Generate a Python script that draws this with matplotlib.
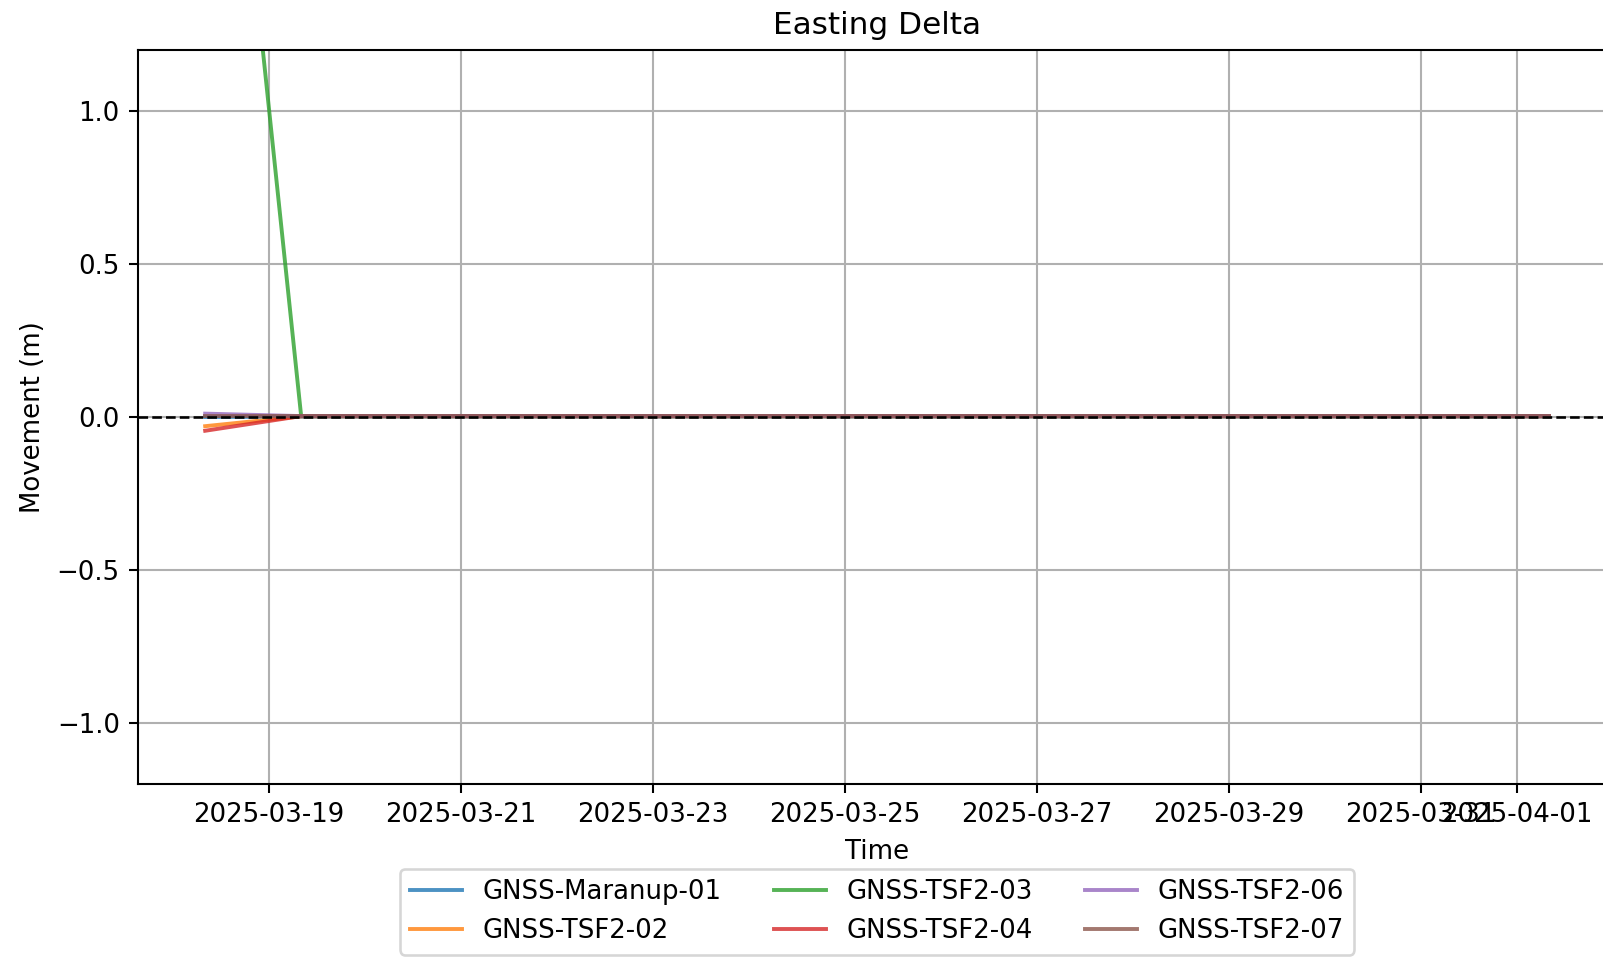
import numpy as np
import pandas as pd
import matplotlib
matplotlib.use('Agg')
import matplotlib.pyplot as plt

DPI = 187

# daily readings, 08:00 each day
dates = pd.date_range("2025-03-18 08:00", "2025-04-01 08:00", freq="D")

stations = ["GNSS-Maranup-01", "GNSS-TSF2-02", "GNSS-TSF2-03",
            "GNSS-TSF2-04", "GNSS-TSF2-06", "GNSS-TSF2-07"]

maranup_01 = [0.000, 0.001, 0.001, 0.001, 0.001, 0.001, 0.001, 0.001,
              0.001, 0.001, 0.001, 0.001, 0.001, 0.001, 0.001]
tsf2_02 = [-0.030, 0.002, 0.002, 0.002, 0.002, 0.002, 0.002, 0.002,
           0.002, 0.002, 0.002, 0.002, 0.002, 0.002, 0.002]
tsf2_03 = [3.00, 0.003, 0.003, 0.003, 0.003, 0.003, 0.003, 0.003,
           0.003, 0.003, 0.003, 0.003, 0.003, 0.003, 0.003]
tsf2_04 = [-0.045, 0.003, 0.003, 0.003, 0.003, 0.003, 0.003, 0.003,
           0.003, 0.003, 0.003, 0.003, 0.003, 0.003, 0.003]
tsf2_06 = [0.011, 0.003, 0.003, 0.003, 0.003, 0.003, 0.003, 0.003,
           0.003, 0.003, 0.003, 0.003, 0.003, 0.003, 0.003]
tsf2_07 = [0.004, 0.004, 0.004, 0.004, 0.004, 0.004, 0.004, 0.004,
           0.004, 0.004, 0.004, 0.004, 0.004, 0.004, 0.004]

series = [maranup_01, tsf2_02, tsf2_03, tsf2_04, tsf2_06, tsf2_07]

fig = plt.figure(figsize=(1603 / DPI, 958 / DPI), dpi=DPI)
# axes runs past the right edge, like the cropped original
ax = fig.add_axes([138 / 1603, 1 - 784 / 958, (1616 - 138) / 1603, (784 - 50) / 958])

for name, vals in zip(stations, series):
    ax.plot(dates, vals, label=name, alpha=0.8)

ax.axhline(0, color='black', linestyle='--', linewidth=1)
ax.set_ylim(-1.2, 1.2)
ax.set_title("Easting Delta")
ax.set_xlabel("Time")
ax.set_ylabel("Movement (m)")
ax.grid(True)
ax.legend(loc='upper center', bbox_to_anchor=(0.5, -0.098), ncol=3)

fig.savefig("out.png", dpi=DPI)
